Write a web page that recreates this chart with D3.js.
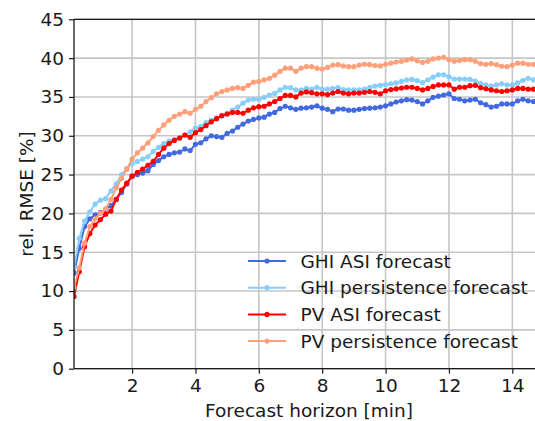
<!doctype html>
<html lang="en">
<head>
  <meta charset="utf-8">
  <title>rel. RMSE - D3</title>
  <style>
    body { margin: 0; background: #fff; }
    text { font-family: "DejaVu Sans", sans-serif; fill: #1a1a1a; }
  </style>
</head>
<body>
  <svg></svg>
  <script src="https://cdn.jsdelivr.net/npm/d3@7/dist/d3.min.js"></script>
  <script>
    // forecast horizon in minutes, one point every 10 s
    var horizon = [
      0.167, 0.333, 0.5, 0.667, 0.833, 1.0, 1.167, 1.333, 1.5, 1.667,
      1.833, 2.0, 2.167, 2.333, 2.5, 2.667, 2.833, 3.0, 3.167, 3.333,
      3.5, 3.667, 3.833, 4.0, 4.167, 4.333, 4.5, 4.667, 4.833, 5.0,
      5.167, 5.333, 5.5, 5.667, 5.833, 6.0, 6.167, 6.333, 6.5, 6.667,
      6.833, 7.0, 7.167, 7.333, 7.5, 7.667, 7.833, 8.0, 8.167, 8.333,
      8.5, 8.667, 8.833, 9.0, 9.167, 9.333, 9.5, 9.667, 9.833, 10.0,
      10.167, 10.333, 10.5, 10.667, 10.833, 11.0, 11.167, 11.333, 11.5, 11.667,
      11.833, 12.0, 12.167, 12.333, 12.5, 12.667, 12.833, 13.0, 13.167, 13.333,
      13.5, 13.667, 13.833, 14.0, 14.167, 14.333, 14.5, 14.667, 14.833, 15.0
    ];

    var ghiAsi = [
      12.3, 15.5, 18.3, 19.3, 19.8, 20.1, 20.5, 21.0, 21.8, 22.7,
      23.8, 24.8, 25.0, 25.2, 25.5, 26.3, 26.8, 27.3, 27.6, 27.8,
      27.9, 28.3, 28.1, 28.9, 29.1, 29.6, 30.0, 29.9, 29.8, 30.3,
      30.6, 31.1, 31.5, 31.9, 32.1, 32.3, 32.4, 32.8, 33.0, 33.5,
      33.8, 33.6, 33.4, 33.55, 33.6, 33.7, 33.85, 33.55, 33.4, 33.1,
      33.45, 33.45, 33.3, 33.3, 33.4, 33.5, 33.55, 33.6, 33.7, 33.85,
      34.1, 34.35, 34.5, 34.65, 34.6, 34.4, 34.1, 34.5, 34.95, 35.1,
      35.25, 35.4, 34.8, 34.7, 34.5, 34.6, 34.7, 34.25, 34.0, 33.7,
      33.8, 34.1, 34.1, 34.1, 34.5, 34.7, 34.5, 34.4, 34.5, 34.6
    ];

    var ghiPersistence = [
      13.0, 16.8, 19.0, 20.2, 21.2, 21.7, 21.9, 22.9, 23.8, 25.0,
      25.8, 26.4, 26.7, 27.0, 27.3, 28.0, 28.5, 29.0, 29.3, 29.5,
      29.8, 30.1, 30.5, 31.0, 31.2, 31.7, 32.0, 32.3, 32.5, 32.9,
      33.3, 33.7, 34.2, 34.6, 34.7, 34.7, 34.95, 35.25, 35.45, 35.9,
      36.25, 36.2, 35.9, 35.9, 36.1, 36.0, 36.25, 36.0, 36.0, 36.1,
      36.2, 35.95, 35.9, 35.9, 35.9, 36.0, 36.25, 36.4, 36.5, 36.6,
      36.7, 36.8, 37.0, 37.2, 37.25, 37.1, 36.85, 37.2, 37.55, 37.85,
      37.85, 37.6, 37.3, 37.3, 37.3, 37.25, 37.05, 36.75, 36.55, 36.4,
      36.55, 36.7, 36.55, 36.55, 36.8, 37.15, 37.4, 37.2, 37.1, 37.1
    ];

    var pvAsi = [
      9.3, 12.5, 15.7, 17.4, 18.5, 19.2, 19.9, 20.3, 21.8, 23.0,
      23.9, 24.8, 25.3, 25.7, 26.2, 26.7, 27.6, 28.4, 29.0, 29.4,
      29.7, 30.1, 29.8, 30.4, 30.8, 31.3, 31.8, 32.2, 32.6, 32.8,
      33.0, 33.0, 32.9, 33.3, 33.6, 33.75, 33.8, 34.1, 34.4, 34.8,
      35.2, 35.2, 35.0, 35.5, 35.65, 35.55, 35.4, 35.4, 35.3, 35.5,
      35.7, 35.5, 35.4, 35.5, 35.5, 35.6, 35.7, 35.6, 35.4, 35.8,
      35.95, 36.05, 36.15, 36.25, 36.25, 36.1, 35.9, 36.1, 36.35, 36.55,
      36.55, 36.55, 36.0, 36.25, 36.25, 36.45, 36.5, 36.2, 36.05, 35.9,
      35.8, 35.7, 35.8, 35.9, 36.1, 36.1, 36.0, 36.0, 36.0, 35.9
    ];

    var pvPersistence = [
      10.5, 13.0, 16.2, 18.3, 19.3, 20.0, 20.6, 21.8, 23.3, 24.5,
      25.7, 27.0, 27.8, 28.4, 29.1, 29.9, 30.7, 31.4, 32.0, 32.5,
      32.8, 33.1, 32.9, 33.4, 33.8, 34.4, 34.9, 35.4, 35.7, 35.9,
      36.1, 36.2, 36.1, 36.5, 36.9, 37.0, 37.2, 37.4, 37.8, 38.3,
      38.7, 38.7, 38.3, 38.7, 38.9, 38.9, 38.7, 38.6, 38.8, 39.1,
      39.15, 39.0, 38.9, 38.9, 39.1, 39.2, 39.15, 39.05, 39.0, 39.2,
      39.35, 39.5, 39.6, 39.75, 39.9, 39.65, 39.45, 39.6, 39.9, 40.0,
      40.1, 39.8, 39.6, 39.7, 39.8, 39.8, 39.6, 39.3, 39.2, 39.3,
      39.15, 38.95, 38.9, 39.1, 39.35, 39.35, 39.2, 39.2, 39.2, 39.1
    ];

    var seriesNames = ['GHI ASI forecast', 'GHI persistence forecast', 'PV ASI forecast', 'PV persistence forecast'];
    var seriesValues = [ghiAsi, ghiPersistence, pvAsi, pvPersistence];
    var seriesColors = ['#4169e1', '#87cefa', '#ff0000', '#ffa07a'];

    var xTicks = [2, 4, 6, 8, 10, 12, 14];
    var yTicks = [0, 5, 10, 15, 20, 25, 30, 35, 40, 45];

    // canvas
    var width = 535;
    var height = 421;
    var plotLeft = 74, plotRight = 544, plotTop = 19.3, plotBottom = 368.7;
    var fontSize = 18.5;

    var svg = d3.select('svg')
      .attr('width', width)
      .attr('height', height);

    var xScale = d3.scaleLinear().domain([1 / 6, 15]).range([plotLeft, plotRight]);
    var yScale = d3.scaleLinear().domain([0, 45]).range([plotBottom, plotTop]);

    // grid
    var grid = svg.append('g');
    grid.selectAll('.vgrid').data(xTicks).enter()
      .append('line')
      .attr('x1', d => xScale(d)).attr('x2', d => xScale(d))
      .attr('y1', plotTop).attr('y2', plotBottom)
      .attr('stroke', '#c6c6c6').attr('stroke-width', 1.6);
    grid.selectAll('.hgrid').data(yTicks).enter()
      .append('line')
      .attr('x1', plotLeft).attr('x2', plotRight)
      .attr('y1', d => yScale(d)).attr('y2', d => yScale(d))
      .attr('stroke', '#c6c6c6').attr('stroke-width', 1.6);

    // clip to axes area
    svg.append('clipPath').attr('id', 'plotClip')
      .append('rect')
      .attr('x', plotLeft).attr('y', plotTop)
      .attr('width', plotRight - plotLeft).attr('height', plotBottom - plotTop);

    var plot = svg.append('g').attr('clip-path', 'url(#plotClip)');

    var line = d3.line()
      .x((v, i) => xScale(horizon[i]))
      .y(v => yScale(v));

    seriesValues.forEach(function (vals, s) {
      plot.append('path')
        .datum(vals)
        .attr('fill', 'none')
        .attr('stroke', seriesColors[s])
        .attr('stroke-width', 2)
        .attr('d', line);
      plot.append('g').selectAll('circle').data(vals).enter()
        .append('circle')
        .attr('cx', (v, i) => xScale(horizon[i]))
        .attr('cy', v => yScale(v))
        .attr('r', 2.6)
        .attr('fill', seriesColors[s]);
    });

    // axes
    var xAxis = d3.axisBottom(xScale).tickValues(xTicks).tickSize(5).tickPadding(5);
    var yAxis = d3.axisLeft(yScale).tickValues(yTicks).tickSize(5).tickPadding(5);

    var gx = svg.append('g').attr('transform', 'translate(0,' + plotBottom + ')').call(xAxis);
    var gy = svg.append('g').attr('transform', 'translate(' + plotLeft + ',0)').call(yAxis);
    [gx, gy].forEach(function (g) {
      g.select('.domain').remove();
      g.selectAll('.tick line').attr('stroke', '#1a1a1a').attr('stroke-width', 1.2);
      g.selectAll('.tick text').attr('font-size', fontSize).attr('font-family', 'DejaVu Sans').attr('fill', '#1a1a1a');
    });

    // spines
    svg.append('line').attr('x1', plotLeft).attr('x2', plotRight).attr('y1', plotTop).attr('y2', plotTop)
      .attr('stroke', '#1a1a1a').attr('stroke-width', 1.3);
    svg.append('line').attr('x1', plotLeft).attr('x2', plotRight).attr('y1', plotBottom).attr('y2', plotBottom)
      .attr('stroke', '#1a1a1a').attr('stroke-width', 1.3);
    svg.append('line').attr('x1', plotLeft).attr('x2', plotLeft).attr('y1', plotTop).attr('y2', plotBottom)
      .attr('stroke', '#1a1a1a').attr('stroke-width', 1.3);

    // axis labels
    svg.append('text')
      .attr('x', (plotLeft + plotRight) / 2).attr('y', 417)
      .attr('text-anchor', 'middle').attr('font-size', fontSize)
      .text('Forecast horizon [min]');
    svg.append('text')
      .attr('transform', 'translate(33,' + ((plotTop + plotBottom) / 2) + ') rotate(-90)')
      .attr('text-anchor', 'middle').attr('font-size', fontSize)
      .text('rel. RMSE [%]');

    // legend (no frame)
    var legend = svg.append('g');
    seriesNames.forEach(function (name, s) {
      var cy = 261 + s * 26.7;
      legend.append('line')
        .attr('x1', 248).attr('x2', 286).attr('y1', cy).attr('y2', cy)
        .attr('stroke', seriesColors[s]).attr('stroke-width', 2);
      legend.append('circle')
        .attr('cx', 267).attr('cy', cy).attr('r', 2.6)
        .attr('fill', seriesColors[s]);
      legend.append('text')
        .attr('x', 300.5).attr('y', cy + 6.5)
        .attr('font-size', fontSize)
        .text(name);
    });
  </script>
</body>
</html>
